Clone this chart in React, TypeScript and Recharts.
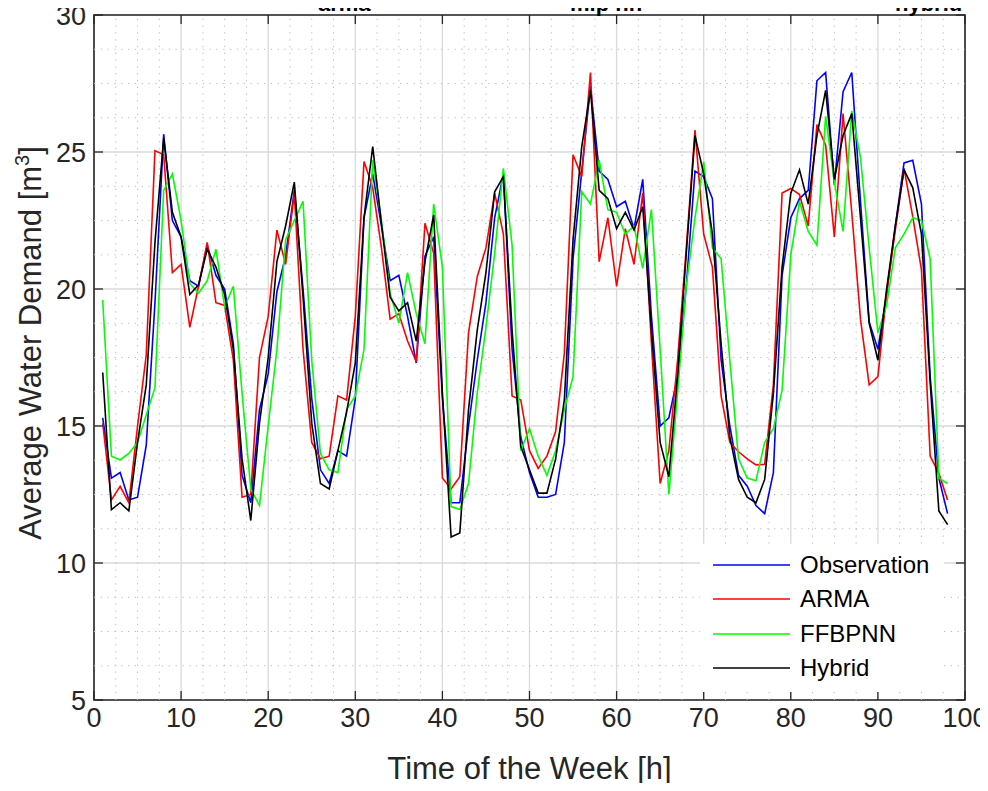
import React from "react";
import {
  LineChart,
  Line,
  XAxis,
  YAxis,
  CartesianGrid,
  ReferenceLine,
  ReferenceArea,
} from "recharts";

// hour index 1..98
const HOURS = Array.from({ length: 98 }, (_, i) => i + 1);

const X_TICKS = [0, 10, 20, 30, 40, 50, 60, 70, 80, 90, 100];
const Y_TICKS = [5, 10, 15, 20, 25, 30];

const OBSERVATION = [
  15.3, 13.1, 13.3, 12.3, 12.4, 14.3, 19.5, 25.65, 22.5, 21.9,
  20.3, 20.1, 21.6, 20.5, 20.0, 18.0, 13.2, 12.2, 15.6, 16.9,
  19.9, 21.2, 23.6, 20.0, 16.0, 13.4, 12.9, 14.1, 13.9, 16.0,
  22.6, 24.2, 22.3, 20.3, 20.5, 19.0, 17.3, 21.2, 21.9, 16.0,
  12.2, 12.2, 15.0, 17.4, 19.5, 22.6, 24.2, 17.8, 14.6, 13.3,
  12.4, 12.4, 12.5, 14.4, 21.1, 24.3, 27.4, 24.3, 24.0, 23.0,
  23.2, 22.2, 24.0, 19.0, 15.0, 15.3, 16.8, 20.1, 24.3, 24.1,
  23.3, 17.4, 15.0, 13.2, 12.8, 12.1, 11.8, 13.3, 20.5, 22.6,
  23.3, 23.6, 27.6, 27.9, 23.8, 27.2, 27.9, 23.2, 18.8, 17.8,
  19.8, 22.3, 24.6, 24.7, 23.1, 16.8, 13.1, 11.8,
];

const ARMA = [
  15.1, 12.3, 12.8, 12.2, 15.0, 17.6, 25.05, 24.9, 20.6, 20.9,
  18.6, 20.1, 21.7, 19.5, 19.4, 17.4, 12.4, 12.5, 17.5, 19.0,
  22.15, 20.9, 23.5, 17.8, 14.4, 13.8, 13.9, 16.1, 15.95, 19.0,
  24.65, 23.7, 21.5, 18.9, 19.1, 18.1, 17.35, 22.4, 21.3, 13.1,
  12.7, 13.15, 18.4, 20.45, 21.5, 23.5, 22.0, 16.1, 15.95, 14.1,
  13.45, 13.9, 14.8, 17.65, 24.9, 24.1, 27.9, 21.0, 22.6, 20.1,
  22.2, 20.9, 23.5, 18.0, 12.9, 14.1, 17.4, 21.5, 25.8, 22.0,
  20.8, 16.1, 14.4, 14.06, 13.8, 13.58, 13.6, 16.5, 23.5, 23.67,
  23.45, 22.3, 26.0, 25.25, 21.9, 26.4, 22.8, 18.9, 16.5, 16.8,
  19.84, 22.15, 24.4, 22.64, 20.7, 13.9, 13.27, 12.3,
];

const FFBPNN = [
  19.6, 13.9, 13.76, 14.0, 14.4, 15.4, 16.4, 23.6, 24.2, 22.5,
  20.2, 19.85, 20.3, 21.45, 19.35, 20.1, 16.2, 12.7, 12.1, 15.0,
  17.8, 21.8, 22.5, 23.2, 17.4, 14.0, 13.4, 13.3, 15.6, 16.1,
  17.8, 24.7, 22.5, 19.85, 18.75, 20.6, 19.1, 18.0, 23.1, 20.8,
  12.06, 11.95, 12.9, 16.2, 18.6, 21.3, 24.4, 21.6, 14.1, 14.9,
  13.9, 13.2, 14.1, 15.6, 16.8, 23.55, 23.1, 24.7, 22.9, 22.8,
  22.0, 22.3, 20.75, 22.9, 17.8, 12.5, 16.2, 20.1, 22.6, 24.65,
  21.5, 21.1, 17.4, 13.8, 13.1, 13.0, 14.4, 14.9, 16.3, 21.25,
  23.2, 22.1, 21.6, 26.3, 23.9, 22.1, 26.5, 24.8, 21.5, 18.4,
  19.4, 21.5, 22.0, 22.6, 22.5, 21.1, 13.1, 12.9,
];

const HYBRID = [
  16.95, 11.95, 12.2, 11.9, 14.4, 16.5, 21.7, 25.5, 22.8, 21.9,
  19.8, 20.15, 21.45, 20.8, 19.8, 17.8, 13.8, 11.55, 15.1, 17.5,
  21.0, 22.3, 23.9, 19.7, 15.1, 12.9, 12.7, 14.1, 15.5, 17.3,
  22.6, 25.2, 22.4, 19.7, 19.2, 19.5, 18.1, 21.0, 22.7, 16.2,
  10.95, 11.1, 15.6, 18.5, 20.6, 23.55, 24.1, 18.5, 14.25, 13.4,
  12.55, 12.55, 13.8, 15.95, 21.8, 25.2, 27.25, 23.6, 23.3, 22.2,
  22.8, 22.15, 23.0, 18.5, 14.4, 13.15, 16.8, 21.3, 25.6, 24.2,
  22.0, 18.0, 14.6, 13.05, 12.4, 12.2, 13.05, 16.2, 20.8, 23.5,
  24.35, 23.1, 25.6, 27.25, 24.0, 25.6, 26.4, 22.6, 18.75, 17.4,
  20.0, 22.3, 24.35, 23.7, 22.0, 16.6, 11.9, 11.4,
];

const SERIES = [
  { key: "obs", name: "Observation", color: "#0000ff", values: OBSERVATION },
  { key: "arma", name: "ARMA", color: "#ff0000", values: ARMA },
  { key: "ffbpnn", name: "FFBPNN", color: "#00ff00", values: FFBPNN },
  { key: "hybrid", name: "Hybrid", color: "#000000", values: HYBRID },
];

const TOP_TITLES = [
  { text: "arma", left: 318 },
  { text: "mlp nn", left: 570 },
  { text: "hybrid", left: 895 },
];

const data = HOURS.map((h, i) => {
  const row: Record<string, number> = { h };
  SERIES.forEach((s) => (row[s.key] = s.values[i]));
  return row;
});

// minor grid: 4 subdivisions between major ticks
const X_MINOR: number[] = [];
for (let v = 0; v < 100; v += 2.5) if (v % 10 !== 0) X_MINOR.push(v);
const Y_MINOR: number[] = [];
for (let v = 5; v < 30; v += 1.25) if (v % 5 !== 0) Y_MINOR.push(v);

const W = 988;
const H = 791;
const PLOT = { left: 94, right: 965, top: 15, bottom: 700 };
const FONT = "'Liberation Sans', Arial, Helvetica, sans-serif";
const INK = "#262626";
const TICK_LEN = 9;
const TICK_FONT = 27;
const LABEL_FONT = 31;

const XTick = (props: any) => {
  const { x, payload } = props;
  return (
    <g>
      <line x1={x} x2={x} y1={PLOT.bottom} y2={PLOT.bottom - TICK_LEN} stroke={INK} strokeWidth={1.3} />
      <line x1={x} x2={x} y1={PLOT.top} y2={PLOT.top + TICK_LEN} stroke={INK} strokeWidth={1.3} />
      <text x={x} y={PLOT.bottom + 27} textAnchor="middle" fontSize={TICK_FONT} fontFamily={FONT} fill={INK}>
        {payload.value}
      </text>
    </g>
  );
};

const YTick = (props: any) => {
  const { y, payload } = props;
  return (
    <g>
      <line x1={PLOT.left} x2={PLOT.left + TICK_LEN} y1={y} y2={y} stroke={INK} strokeWidth={1.3} />
      <line x1={PLOT.right} x2={PLOT.right - TICK_LEN} y1={y} y2={y} stroke={INK} strokeWidth={1.3} />
      <text x={PLOT.left - 8} y={y + 9.7} textAnchor="end" fontSize={TICK_FONT} fontFamily={FONT} fill={INK}>
        {payload.value}
      </text>
    </g>
  );
};

const YLabel = () => {
  const cx = 41;
  const cy = 343;
  return (
    <text
      transform={`translate(${cx},${cy}) rotate(-90)`}
      textAnchor="middle"
      fontSize={LABEL_FONT}
      fontFamily={FONT}
      fill={INK}
    >
      Average Water Demand [m
      <tspan dy={-12} fontSize={20}>3</tspan>
      <tspan dy={12}>]</tspan>
    </text>
  );
};

const XLabel = () => (
  <text
    x={(PLOT.left + PLOT.right) / 2}
    y={779}
    textAnchor="middle"
    fontSize={LABEL_FONT}
    fontFamily={FONT}
    fill={INK}
  >
    Time of the Week [h]
  </text>
);

export default function App() {
  return (
    <div
      style={{
        position: "relative",
        width: W,
        height: H,
        margin: -8,
        overflow: "hidden",
        background: "#fff",
      }}
    >
      <LineChart
        width={W}
        height={H}
        data={data}
        margin={{ top: PLOT.top, right: W - PLOT.right, bottom: H - PLOT.bottom - 1, left: PLOT.left - 1 }}
      >
        {X_MINOR.map((v) => (
          <ReferenceLine key={"xm" + v} x={v} stroke="#bdbdbd" strokeWidth={1} strokeDasharray="1.3 5.5" />
        ))}
        {Y_MINOR.map((v) => (
          <ReferenceLine key={"ym" + v} y={v} stroke="#bdbdbd" strokeWidth={1} strokeDasharray="1.3 5.5" />
        ))}
        <CartesianGrid stroke="#dadada" strokeWidth={1.3} />
        <XAxis
          dataKey="h"
          type="number"
          domain={[0, 100]}
          ticks={X_TICKS}
          height={1}
          axisLine={false}
          tickLine={false}
          tick={XTick}
          interval={0}
          label={<XLabel />}
        />
        <YAxis
          type="number"
          domain={[5, 30]}
          ticks={Y_TICKS}
          width={1}
          axisLine={false}
          tickLine={false}
          tick={YTick}
          interval={0}
          label={<YLabel />}
        />
        {SERIES.map((s) => (
          <Line
            key={s.key}
            dataKey={s.key}
            name={s.name}
            stroke={s.color}
            strokeWidth={1.6}
            dot={false}
            activeDot={false}
            isAnimationActive={false}
          />
        ))}
        <ReferenceArea x1={0} x2={100} y1={5} y2={30} fill="none" stroke={INK} strokeWidth={1.6} />
      </LineChart>

      {TOP_TITLES.map((t) => (
        <div
          key={t.text}
          style={{
            position: "absolute",
            left: t.left,
            top: -7,
            fontFamily: FONT,
            fontWeight: "bold",
            fontSize: 22,
            lineHeight: "22px",
            color: "#000",
            whiteSpace: "nowrap",
          }}
        >
          {t.text}
        </div>
      ))}

      <div
        style={{
          position: "absolute",
          left: 700,
          top: 544,
          width: 244,
          height: 148,
          background: "#fff",
          fontFamily: FONT,
          fontSize: 24,
          color: "#000",
        }}
      >
        {SERIES.map((s, i) => (
          <div
            key={s.key}
            style={{
              position: "absolute",
              left: 0,
              top: 4 + i * 34.3,
              height: 34,
              display: "flex",
              alignItems: "center",
              whiteSpace: "nowrap",
            }}
          >
            <svg width={100} height={34} style={{ display: "block" }}>
              <line x1={13} x2={90} y1={17} y2={17} stroke={s.color} strokeWidth={1.6} />
            </svg>
            <span>{s.name}</span>
          </div>
        ))}
      </div>
    </div>
  );
}
